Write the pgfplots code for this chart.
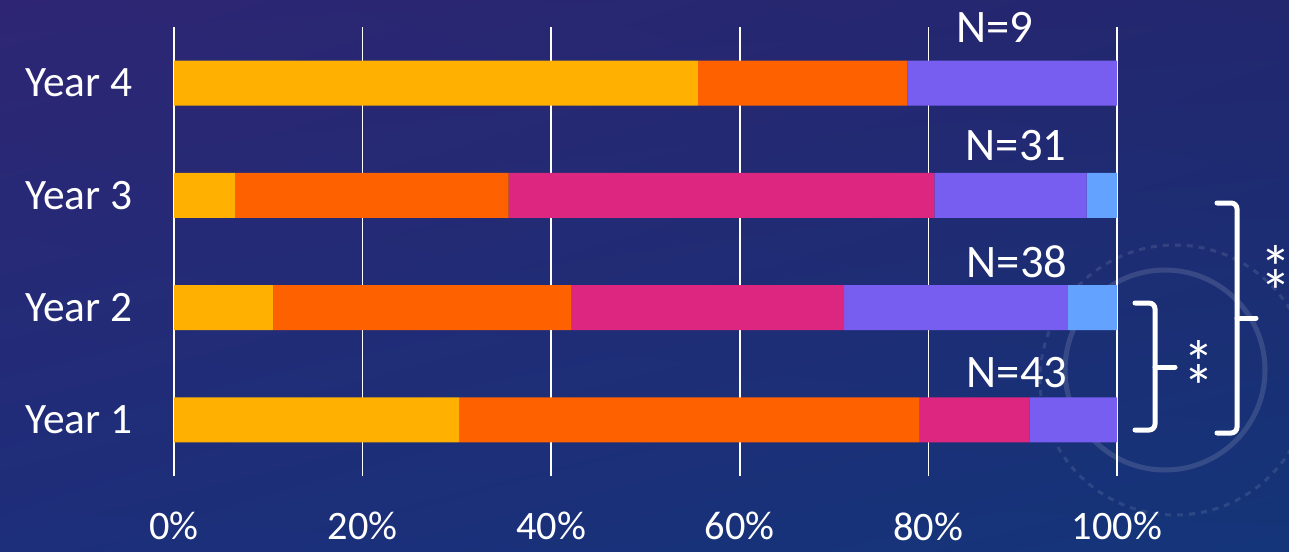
\documentclass[border=0pt]{standalone}
\usepackage{pgfplots}
\pgfplotsset{compat=1.18}
\usetikzlibrary{shadings}
\usepackage{fontspec}
\setmainfont{Carlito}
\definecolor{cYel}{HTML}{FFB000}
\definecolor{cOra}{HTML}{FE6100}
\definecolor{cMag}{HTML}{DC267F}
\definecolor{cPur}{HTML}{785EF0}
\definecolor{cBlu}{HTML}{64A2FF}
\definecolor{bgUL}{HTML}{2E2674}
\definecolor{bgUR}{HTML}{22276E}
\definecolor{bgLL}{HTML}{1D2E7A}
\definecolor{bgLR}{HTML}{143579}
\newcommand{\twostars}{\smash{*}\llap{\raisebox{-12.3pt}{\smash{*}}}}
\begin{document}
\begin{tikzpicture}
\begin{scope}[x=0.5pt,y=-0.5pt]
\shade[upper left=bgUL, upper right=bgUR, lower left=bgLL, lower right=bgLR] (0,0) rectangle (1289,551);
\draw[white, opacity=0.13, line width=2.5pt] (1165,370) circle[radius=100];
\draw[white, opacity=0.10, line width=1.5pt, dashed] (1175,380) circle[radius=135];
\end{scope}
\begin{axis}[
  at={(87pt,-238pt)}, anchor=south west,
  scale only axis, width=471.5pt, height=224.5pt,
  xbar stacked, bar width=22.5pt,
  xmin=0, xmax=100, ymin=-0.5, ymax=3.5,
  axis line style={draw=none},
  major tick length=0pt,
  xtick={0,20,40,60,80,100},
  xticklabels={0\%,20\%,40\%,60\%,80\%,100\%},
  ytick={0,1,2,3},
  yticklabels={Year 1,Year 2,Year 3,Year 4},
  xmajorgrids, grid style={white, line width=0.8pt},
  xticklabel style={anchor=north, inner sep=0pt, yshift=-18pt, text=white, font=\fontsize{20.2}{24}\selectfont},
  yticklabel style={anchor=east, inner sep=0pt, xshift=-20.5pt, text=white, font=\fontsize{21.7}{26}\selectfont},
  clip=false,
]
\addplot[fill=cYel, draw=none] coordinates {(30.23,0) (10.53,1) (6.45,2) (55.56,3)};
\addplot[fill=cOra, draw=none] coordinates {(48.84,0) (31.58,1) (29.03,2) (22.22,3)};
\addplot[fill=cMag, draw=none] coordinates {(11.63,0) (28.95,1) (45.16,2) (0,3)};
\addplot[fill=cPur, draw=none] coordinates {(9.30,0) (23.68,1) (16.13,2) (22.22,3)};
\addplot[fill=cBlu, draw=none] coordinates {(0,0) (5.26,1) (3.23,2) (0,3)};
\end{axis}
\begin{scope}[x=0.5pt,y=-0.5pt]
\begin{scope}[every node/.style={text=white, font=\fontsize{23.3}{28}\selectfont, inner sep=0pt}]
\node at (995,27.5) {N=9};
\node at (1016,146) {N=31};
\node at (1017,262) {N=38};
\node at (1017,373) {N=43};
\end{scope}
\begin{scope}[white, line width=2.5pt, rounded corners=3pt, line cap=round]
\draw (1135,303) -- (1155,303) -- (1155,430) -- (1135,430);
\draw (1155,367) -- (1175,367);
\draw (1217,203) -- (1237,203) -- (1237,433) -- (1217,433);
\draw (1237,318) -- (1256,318);
\end{scope}
\begin{scope}[every node/.style={text=white, font=\fontsize{31}{36}\selectfont, inner sep=0pt, anchor=base}]
\node at (1199,384) {\twostars};
\node at (1276,289) {\twostars};
\end{scope}
\end{scope}
\pgfresetboundingbox
\useasboundingbox (0,0) rectangle (644.5pt,-275.5pt);
\end{tikzpicture}
\end{document}
